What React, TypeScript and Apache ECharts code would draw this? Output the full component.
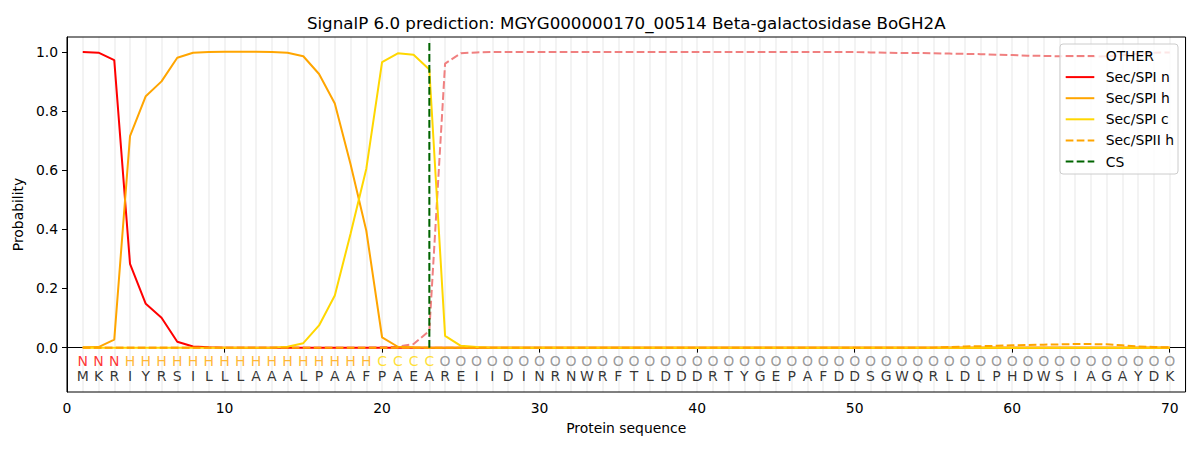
import React, { useEffect, useRef } from 'react';
import * as echarts from 'echarts';

const positions = [
  1, 2, 3, 4, 5, 6, 7, 8, 9, 10, 11, 12, 13, 14, 15, 16, 17, 18, 19, 20,
  21, 22, 23, 24, 25, 26, 27, 28, 29, 30, 31, 32, 33, 34, 35, 36, 37, 38, 39, 40,
  41, 42, 43, 44, 45, 46, 47, 48, 49, 50, 51, 52, 53, 54, 55, 56, 57, 58, 59, 60,
  61, 62, 63, 64, 65, 66, 67, 68, 69, 70,
];

const sequence = 'MKRIYRSILLLAAALPAAFPAEAREIIDINRNWRFTLDDDRTYGEPAFDDSGWQRLDLPHDWSIAGAYDK'.split('');
const regionLabels = 'NNNHHHHHHHHHHHHHHHHCCCCOOOOOOOOOOOOOOOOOOOOOOOOOOOOOOOOOOOOOOOOOOOOOOO'.split('');

const otherProb = [
  0, 0, 0, 0, 0, 0, 0, 0, 0, 0,
  0, 0, 0, 0, 0, 0, 0, 0, 0, 0.001,
  0.003, 0.012, 0.057, 0.96, 0.995, 0.998, 0.999, 0.999, 0.999, 0.999,
  0.999, 0.999, 0.999, 0.999, 0.999, 0.999, 0.999, 0.999, 0.999, 0.999,
  0.999, 0.999, 0.999, 0.999, 0.999, 0.999, 0.999, 0.999, 0.999, 0.999,
  0.998, 0.997, 0.996, 0.996, 0.995, 0.994, 0.993, 0.992, 0.99, 0.989,
  0.987, 0.986, 0.985, 0.984, 0.984, 0.985, 0.988, 0.993, 0.997, 0.998,
];

const spiNProb = [
  0.999, 0.997, 0.972, 0.283, 0.148, 0.101, 0.02, 0.004, 0.001, 0,
  0, 0, 0, 0, 0, 0, 0, 0, 0, 0,
  0, 0, 0, 0, 0, 0, 0, 0, 0, 0,
  0, 0, 0, 0, 0, 0, 0, 0, 0, 0,
  0, 0, 0, 0, 0, 0, 0, 0, 0, 0,
  0, 0, 0, 0, 0, 0, 0, 0, 0, 0,
  0, 0, 0, 0, 0, 0, 0, 0, 0, 0,
];

const spiHProb = [
  0.001, 0.002, 0.027, 0.715, 0.85, 0.9, 0.98, 0.997, 0.999, 1.0,
  1.0, 1.0, 0.999, 0.997, 0.985, 0.925, 0.825, 0.62, 0.395, 0.035,
  0.003, 0.001, 0, 0, 0, 0, 0, 0, 0, 0,
  0, 0, 0, 0, 0, 0, 0, 0, 0, 0,
  0, 0, 0, 0, 0, 0, 0, 0, 0, 0,
  0, 0, 0, 0, 0, 0, 0, 0, 0, 0,
  0, 0, 0, 0, 0, 0, 0, 0, 0, 0,
];

const spiCProb = [
  0, 0, 0, 0, 0, 0, 0, 0, 0, 0,
  0, 0, 0, 0.003, 0.015, 0.075, 0.176, 0.385, 0.605, 0.965,
  0.995, 0.99, 0.94, 0.04, 0.006, 0.002, 0, 0, 0, 0,
  0, 0, 0, 0, 0, 0, 0, 0, 0, 0,
  0, 0, 0, 0, 0, 0, 0, 0, 0, 0,
  0, 0, 0, 0, 0, 0, 0, 0, 0, 0,
  0, 0, 0, 0, 0, 0, 0, 0, 0, 0,
];

const spiiHProb = [
  0, 0, 0, 0, 0, 0, 0, 0, 0, 0,
  0, 0, 0, 0, 0, 0, 0, 0, 0, 0,
  0, 0, 0, 0, 0, 0, 0, 0, 0, 0,
  0, 0, 0, 0, 0, 0, 0, 0, 0, 0,
  0, 0, 0, 0, 0, 0, 0, 0, 0, 0,
  0, 0, 0, 0, 0, 0.002, 0.004, 0.005, 0.006, 0.008,
  0.009, 0.01, 0.011, 0.012, 0.012, 0.011, 0.008, 0.004, 0.002, 0.001,
];

const csPosition = 23;
const csLineTop = 1.035;
const yTicks = [0, 0.2, 0.4, 0.6, 0.8, 1.0];
const xTicks = [0, 10, 20, 30, 40, 50, 60, 70];

const regionColors: Record<string, string> = {
  N: '#ff0000',
  H: '#ffa500',
  C: '#ffd700',
  O: '#808080',
};

const FONT = 'DejaVu Sans';
const DASH = [7.7, 3.3];

const legendItems = [
  { name: 'OTHER', color: '#f08080', dashed: true },
  { name: 'Sec/SPI n', color: '#ff0000', dashed: false },
  { name: 'Sec/SPI h', color: '#ffa500', dashed: false },
  { name: 'Sec/SPI c', color: '#ffd700', dashed: false },
  { name: 'Sec/SPII h', color: '#ffa500', dashed: true },
  { name: 'CS', color: '#006400', dashed: true },
];

function lineSeries(name: string, values: number[], color: string, dashed: boolean) {
  return {
    name,
    type: 'line',
    xAxisIndex: 0,
    yAxisIndex: 0,
    data: positions.map((p, i) => [p, values[i]]),
    symbol: 'none',
    showSymbol: false,
    lineStyle: { color, width: 2, type: dashed ? DASH : 'solid' },
    itemStyle: { color },
    silent: true,
  };
}

export default function App() {
  const ref = useRef<HTMLDivElement>(null);

  useEffect(() => {
    document.body.style.margin = '0';
    if (!ref.current) return;
    const chart = echarts.init(ref.current, undefined, { renderer: 'svg' });

    const gridLeft = 67;
    const gridTop = 37;
    const gridWidth = 1118.5;
    const gridHeight = 355;

    const legendX = 1060;
    const legendY = 44;
    const rowY0 = 56;
    const rowStep = 21.1;

    const legendGraphics: any[] = [
      {
        type: 'rect',
        shape: { x: legendX, y: legendY, width: 118, height: 130, r: 3 },
        style: { fill: 'rgba(255,255,255,0.8)', stroke: '#cccccc', lineWidth: 1 },
        z: 110,
      },
    ];
    legendItems.forEach((it, i) => {
      const y = rowY0 + i * rowStep;
      legendGraphics.push({
        type: 'line',
        shape: { x1: legendX + 5.7, y1: y, x2: legendX + 34.3, y2: y },
        style: { stroke: it.color, lineWidth: 2, lineDash: it.dashed ? DASH : null },
        z: 111,
      });
      legendGraphics.push({
        type: 'text',
        x: legendX + 45.7,
        y,
        style: {
          text: it.name,
          fill: '#000',
          font: `13.9px "${FONT}"`,
          textVerticalAlign: 'middle',
          verticalAlign: 'middle',
          textAlign: 'left',
        },
        z: 111,
      });
    });

    const option: any = {
      animation: false,
      textStyle: { fontFamily: FONT },
      grid: {
        left: gridLeft,
        top: gridTop,
        width: gridWidth,
        height: gridHeight,
        containLabel: false,
      },
      xAxis: [
        {
          type: 'value',
          min: 0,
          max: 71,
          gridIndex: 0,
          axisLine: { show: true, lineStyle: { color: '#000', width: 1 } },
          axisTick: {
            show: true,
            length: 5,
            lineStyle: { color: '#000', width: 1 },
            customValues: xTicks,
          },
          axisLabel: {
            show: true,
            customValues: xTicks,
            color: '#000',
            fontSize: 13.9,
            fontFamily: FONT,
            margin: 9,
          },
          splitLine: { show: false },
          name: 'Protein sequence',
          nameLocation: 'middle',
          nameGap: 29,
          nameTextStyle: { color: '#000', fontSize: 13.9, fontFamily: FONT },
        },
        {
          type: 'value',
          min: 0,
          max: 71,
          interval: 1,
          gridIndex: 0,
          position: 'top',
          axisLine: { show: false },
          axisTick: { show: false },
          axisLabel: { show: false },
          splitLine: { show: true, lineStyle: { color: '#f1f1f1', width: 1.7 } },
        },
      ],
      yAxis: [
        {
          type: 'value',
          min: -0.15,
          max: 1.05,
          gridIndex: 0,
          axisLine: { show: true, lineStyle: { color: '#000', width: 1 } },
          axisTick: {
            show: true,
            length: 5,
            lineStyle: { color: '#000', width: 1 },
            customValues: yTicks,
          },
          axisLabel: {
            show: true,
            customValues: yTicks,
            formatter: (v: number) => v.toFixed(1),
            color: '#000',
            fontSize: 13.9,
            fontFamily: FONT,
            margin: 9,
          },
          splitLine: { show: false },
          name: 'Probability',
          nameLocation: 'middle',
          nameGap: 33,
          nameTextStyle: { color: '#000', fontSize: 13.9, fontFamily: FONT },
        },
      ],
      graphic: [
        {
          type: 'text',
          x: gridLeft + gridWidth / 2,
          y: 23,
          style: {
            text: 'SignalP 6.0 prediction: MGYG000000170_00514 Beta-galactosidase BoGH2A',
            fill: '#000',
            font: `16.7px "${FONT}"`,
            textAlign: 'center',
            textVerticalAlign: 'middle',
            verticalAlign: 'middle',
          },
        },
        {
          type: 'rect',
          shape: { x: gridLeft, y: gridTop, width: gridWidth, height: gridHeight },
          style: { fill: 'none', stroke: '#000', lineWidth: 1 },
          z: 100,
          silent: true,
        },
        ...legendGraphics,
      ],
      series: [
        lineSeries('OTHER', otherProb, '#f08080', true),
        lineSeries('Sec/SPI n', spiNProb, '#ff0000', false),
        lineSeries('Sec/SPI h', spiHProb, '#ffa500', false),
        lineSeries('Sec/SPI c', spiCProb, '#ffd700', false),
        lineSeries('Sec/SPII h', spiiHProb, '#ffa500', true),
        {
          name: 'CS',
          type: 'line',
          data: [
            [csPosition, 0],
            [csPosition, csLineTop],
          ],
          symbol: 'none',
          lineStyle: { color: '#006400', width: 2, type: DASH },
          silent: true,
        },
        {
          name: 'regions',
          type: 'scatter',
          symbol: 'circle',
          symbolSize: 1,
          itemStyle: { color: 'rgba(0,0,0,0)' },
          data: positions.map((p, i) => ({
            name: regionLabels[i],
            value: [p, -0.046],
            label: { color: regionColors[regionLabels[i]] },
          })),
          label: {
            show: true,
            position: 'inside',
            formatter: '{b}',
            fontSize: 14,
            fontFamily: FONT,
          },
          silent: true,
        },
        {
          name: 'sequence',
          type: 'scatter',
          symbol: 'circle',
          symbolSize: 1,
          itemStyle: { color: 'rgba(0,0,0,0)' },
          data: positions.map((p, i) => ({
            name: sequence[i],
            value: [p, -0.097],
          })),
          label: {
            show: true,
            position: 'inside',
            formatter: '{b}',
            color: '#000',
            fontSize: 14,
            fontFamily: FONT,
          },
          silent: true,
        },
      ],
    };

    chart.setOption(option);
    return () => {
      chart.dispose();
    };
  }, []);

  return <div ref={ref} style={{ width: 1200, height: 450 }} />;
}
